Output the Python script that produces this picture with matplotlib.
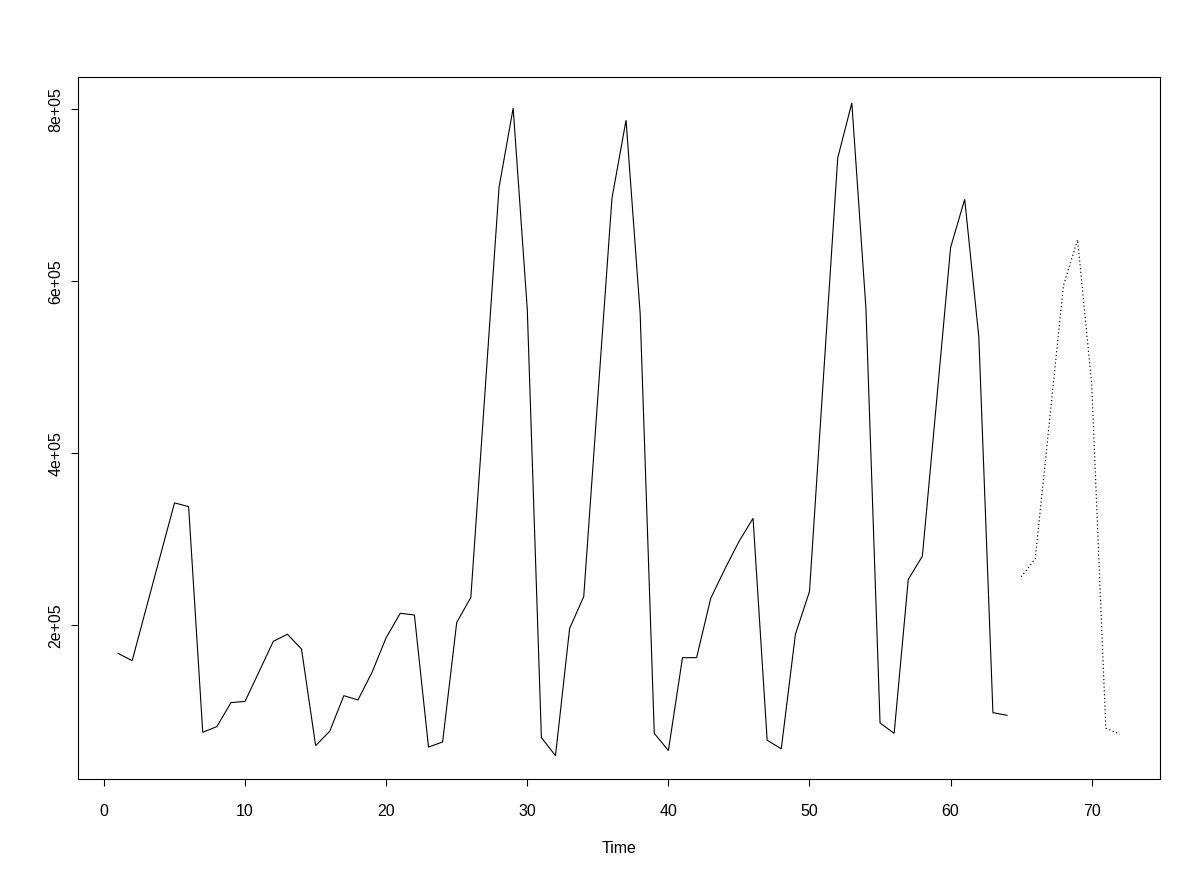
import matplotlib
matplotlib.use("Agg")
import matplotlib.pyplot as plt

plt.rcParams['font.family'] = ['Liberation Sans', 'DejaVu Sans']

# observed series (t = 1..64)
time_obs = list(range(1, 65))
values_obs = [
    167000, 158500, 220000, 281000, 342000, 337600, 75200, 81800, 109700, 111200,
    146000, 181000, 189200, 172000, 59700, 76400, 117800, 112800, 145000, 185300,
    213600, 211600, 58000, 64000, 203000, 232000, 470000, 709000, 801000, 567000,
    69000, 48000, 196000, 233000, 465000, 696000, 787000, 562000, 74000, 54000,
    162000, 162000, 231000, 265000, 297000, 324000, 66000, 56000, 189000, 239000,
    491000, 743000, 807000, 568000, 86000, 74000, 253000, 280000, 459000, 639000,
    695000, 535000, 98000, 95000,
]

# forecast series (t = 65..72), dotted
time_fc = list(range(65, 73))
values_fc = [256000, 277000, 436000, 595000, 648000, 480000, 80000, 73000]

x_ticks = [0, 10, 20, 30, 40, 50, 60, 70]
y_ticks = [200000, 400000, 600000, 800000]
y_tick_labels = ["2e+05", "4e+05", "6e+05", "8e+05"]

W, H = 1200, 879
fig = plt.figure(figsize=(W / 100, H / 100), dpi=100)
left, right, top, bottom = 78, 1160, 78, 780
ax = fig.add_axes([left / W, 1 - bottom / H, (right - left) / W, (bottom - top) / H])

ax.plot(time_obs, values_obs, color='black', lw=0.8, solid_joinstyle='miter')
ax.plot(time_fc, values_fc, color='black', lw=0.85, linestyle=(0, (1, 2.2)))

# R-style 4% range extension
tmin, tmax = 1, 72
ax.set_xlim(tmin - 0.04 * (tmax - tmin), tmax + 0.04 * (tmax - tmin))
ax.set_ylim(20900, 837200)

ax.set_xticks(x_ticks)
ax.set_xticklabels([str(v) for v in x_ticks])
ax.set_yticks(y_ticks)
ax.set_yticklabels(y_tick_labels, rotation=90, va='center')

for s in ax.spines.values():
    s.set_linewidth(0.8)
    s.set_color('black')

ax.tick_params(axis='both', direction='out', length=5.2, width=0.8, labelsize=11.5, colors='black')
ax.tick_params(axis='x', pad=12)
ax.tick_params(axis='y', pad=5.5)

fig.text((left + right) / 2 / W, 1 - 849 / H, 'Time', ha='center', va='center', fontsize=11.5)

fig.savefig('out.png', dpi=100, facecolor='white')
